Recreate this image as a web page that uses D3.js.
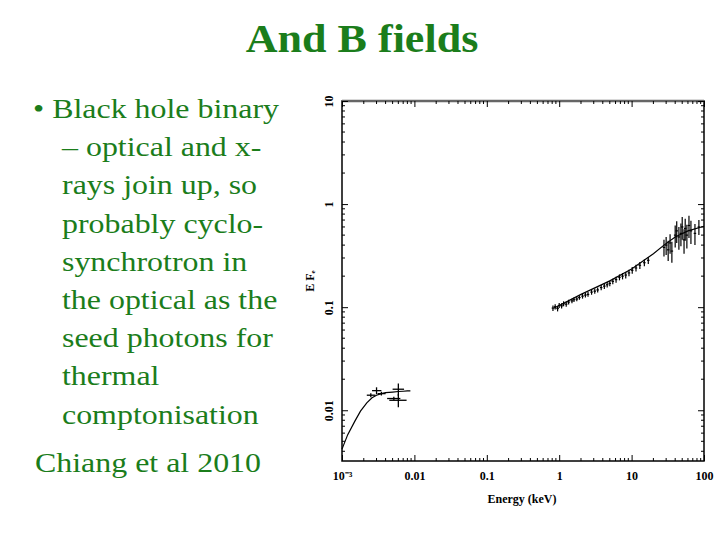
<!DOCTYPE html>
<html lang="en">
<head>
<meta charset="UTF-8">
<title>And B fields</title>
<script src="https://d3js.org/d3.v7.min.js"></script>
<style>
  body { margin:0; background:#fff; }
  .slide { font-family:'Liberation Serif', serif; }
  .axis text { font-family:'Liberation Serif', serif; font-weight:bold; font-size:12px; }
</style>
</head>
<body>
<script>
var bullets = ["•  Black hole binary", "– optical and x-", "rays join up, so", "probably cyclo-", "synchrotron in", "the optical as the", "seed photons for", "thermal", "comptonisation"];
var bulletX = [33, 62, 62, 62, 62, 62, 62, 62, 62];
var xTicks = [0.001, 0.01, 0.1, 1, 10, 100];
var yTicks = [0.01, 0.1, 1, 10];

// optical data: energy, flux, x-error (lo, hi), y-error
var optE = [0.0025, 0.003, 0.0035, 0.0052, 0.006, 0.006];
var optF = [0.014, 0.0155, 0.0145, 0.013, 0.016, 0.0125];
var optXlo = [0.0022, 0.0026, 0.0031, 0.0042, 0.005, 0.0045];
var optXhi = [0.0029, 0.0035, 0.004, 0.0064, 0.0072, 0.0078];
var optYe = [0.0006, 0.0012, 0.0006, 0.0005, 0.0022, 0.0018];

// x-ray data
var xrE = [0.82,0.88,0.95,1.0,1.08,1.15,1.25,1.35,1.5,1.6,1.75,1.9,2.1,2.3,2.5,2.8,3.1,3.4,3.8,4.2,4.6,5.0,5.5,6.1,6.8,7.5,8.3,9.2,10.2,11.5,13,15,17,28,30,32,34,36,40,42,45,48,50,53,55,58,62,66,75,85];
var xrF = [0.098,0.101,0.097,0.104,0.103,0.108,0.107,0.112,0.115,0.118,0.12,0.124,0.128,0.131,0.133,0.14,0.143,0.147,0.155,0.16,0.165,0.17,0.178,0.185,0.195,0.2,0.205,0.215,0.228,0.24,0.255,0.27,0.285,0.38,0.4,0.36,0.42,0.35,0.5,0.55,0.48,0.52,0.6,0.45,0.58,0.5,0.62,0.55,0.52,0.6];
var xrYe = [0.006,0.006,0.006,0.006,0.006,0.006,0.006,0.006,0.006,0.006,0.006,0.006,0.007,0.007,0.007,0.008,0.008,0.008,0.009,0.01,0.01,0.01,0.011,0.012,0.013,0.014,0.015,0.016,0.017,0.018,0.02,0.02,0.022,0.07,0.08,0.08,0.09,0.08,0.12,0.13,0.12,0.13,0.15,0.12,0.14,0.13,0.15,0.14,0.12,0.1];

// model curves
var modE = [0.001, 0.0012, 0.0015, 0.0018, 0.0022, 0.0026, 0.003, 0.0035, 0.004, 0.005, 0.006, 0.007, 0.008, 0.0088];
var modF = [0.0042, 0.0058, 0.0078, 0.0098, 0.0118, 0.0132, 0.014, 0.0145, 0.0148, 0.015, 0.0152, 0.0153, 0.0154, 0.0154];
var mod2E = [0.85, 1, 2, 5, 10, 20, 28, 40, 60, 100];
var mod2F = [0.098, 0.104, 0.133, 0.18, 0.235, 0.33, 0.4, 0.48, 0.55, 0.61];

var green = "#1b7d1b";
var svg = d3.select("body").append("svg").attr("width", 720).attr("height", 540);

svg.append("text").attr("class", "slide").attr("transform", "translate(362,52) scale(1.13,1)")
   .attr("text-anchor", "middle").attr("font-size", 39).attr("font-weight", "bold")
   .attr("fill", green).text("And B fields");

svg.append("clipPath").attr("id", "tclip").append("rect")
   .attr("x", 0).attr("y", 80).attr("width", 283).attr("height", 420);
var tg = svg.append("g").attr("clip-path", "url(#tclip)");
bullets.forEach(function(b, i) {
  tg.append("text").attr("class", "slide").attr("transform", "translate(" + bulletX[i] + "," + (118 + i * 38.2) + ") scale(1.14,1)")
    .attr("font-size", 28).attr("fill", green).text(b);
});
svg.append("text").attr("class", "slide").attr("transform", "translate(35,472) scale(1.14,1)")
   .attr("font-size", 28).attr("fill", green).text("Chiang et al 2010");

var pL = 342, pR = 704, pT = 101, pB = 461;
var x = d3.scaleLog().domain([0.001, 100]).range([pL, pR]);
var y = d3.scaleLog().domain([0.00322, 10]).range([pB, pT]);

var g = svg.append("g");
g.append("rect").attr("x", pL).attr("y", pT).attr("width", pR - pL).attr("height", pB - pT)
 .attr("fill", "none").attr("stroke", "#000").attr("stroke-width", 1.5);
g.append("line").attr("x1", pL).attr("x2", pR).attr("y1", pT).attr("y2", pT)
 .attr("stroke", "#666").attr("stroke-width", 2.5);

var xb = g.append("g").attr("class", "axis").attr("transform", "translate(0," + pB + ")")
  .call(d3.axisBottom(x).tickValues(xTicks).tickSize(-6).tickFormat(function(d){ return d === 0.001 ? "10\u207B\u00B3" : (d >= 1 ? d3.format("d")(d) : String(d)); }));
xb.select(".domain").remove();
xb.selectAll("text").attr("dy", "1.3em");
g.append("g").attr("transform", "translate(0," + pT + ")")
  .call(d3.axisTop(x).tickValues(xTicks).tickSize(-6).tickFormat(""))
  .select(".domain").remove();
var minorX = x.ticks().filter(function(d){ return xTicks.indexOf(d) < 0; });
[[pB, -3], [pT, 3]].forEach(function(p) {
  g.selectAll(null).data(minorX).enter().append("line")
   .attr("x1", x).attr("x2", x).attr("y1", p[0]).attr("y2", p[0] + p[1]).attr("stroke", "#000");
});

var yl = g.append("g").attr("class", "axis").attr("transform", "translate(" + pL + ",0)")
  .call(d3.axisLeft(y).tickValues(yTicks).tickSize(-6).tickFormat(function(d){ return String(d); }));
yl.select(".domain").remove();
yl.selectAll("text").attr("x", 0).attr("y", 0).attr("dy", "0.35em").attr("text-anchor", "middle")
  .attr("transform", "translate(-13,0) rotate(-90)");
g.append("g").attr("transform", "translate(" + pR + ",0)")
  .call(d3.axisRight(y).tickValues(yTicks).tickSize(-6).tickFormat(""))
  .select(".domain").remove();
var minorY = y.ticks().filter(function(d){ return yTicks.indexOf(d) < 0; });
[[pL, 3], [pR, -3]].forEach(function(p) {
  g.selectAll(null).data(minorY).enter().append("line")
   .attr("y1", y).attr("y2", y).attr("x1", p[0]).attr("x2", p[0] + p[1]).attr("stroke", "#000");
});

svg.append("text").attr("class", "slide").attr("transform", "translate(314,281) rotate(-90)")
  .attr("text-anchor", "middle").attr("font-size", 12).attr("font-weight", "bold").text("E F\u2091");
svg.append("text").attr("class", "slide").attr("x", 522).attr("y", 503)
  .attr("text-anchor", "middle").attr("font-size", 12).attr("font-weight", "bold").text("Energy (keV)");

var line = d3.line().x(function(d){ return x(d[0]); }).y(function(d){ return y(d[1]); });
g.append("path").attr("d", line(d3.zip(modE, modF))).attr("fill", "none").attr("stroke", "#000").attr("stroke-width", 1.2);
g.append("path").attr("d", line(d3.zip(mod2E, mod2F))).attr("fill", "none").attr("stroke", "#000").attr("stroke-width", 1.2);

optE.forEach(function(e, i) {
  g.append("line").attr("x1", x(optXlo[i])).attr("x2", x(optXhi[i])).attr("y1", y(optF[i])).attr("y2", y(optF[i])).attr("stroke", "#000").attr("stroke-width", 1.3);
  g.append("line").attr("x1", x(e)).attr("x2", x(e)).attr("y1", y(optF[i] - optYe[i])).attr("y2", y(optF[i] + optYe[i])).attr("stroke", "#000").attr("stroke-width", 1.3);
});
xrE.forEach(function(e, i) {
  g.append("line").attr("x1", x(e * 0.96)).attr("x2", x(e * 1.04)).attr("y1", y(xrF[i])).attr("y2", y(xrF[i])).attr("stroke", "#000").attr("stroke-width", 1.2);
  g.append("line").attr("x1", x(e)).attr("x2", x(e)).attr("y1", y(xrF[i] - xrYe[i])).attr("y2", y(xrF[i] + xrYe[i])).attr("stroke", "#000").attr("stroke-width", 1.2);
});
</script>
</body>
</html>
